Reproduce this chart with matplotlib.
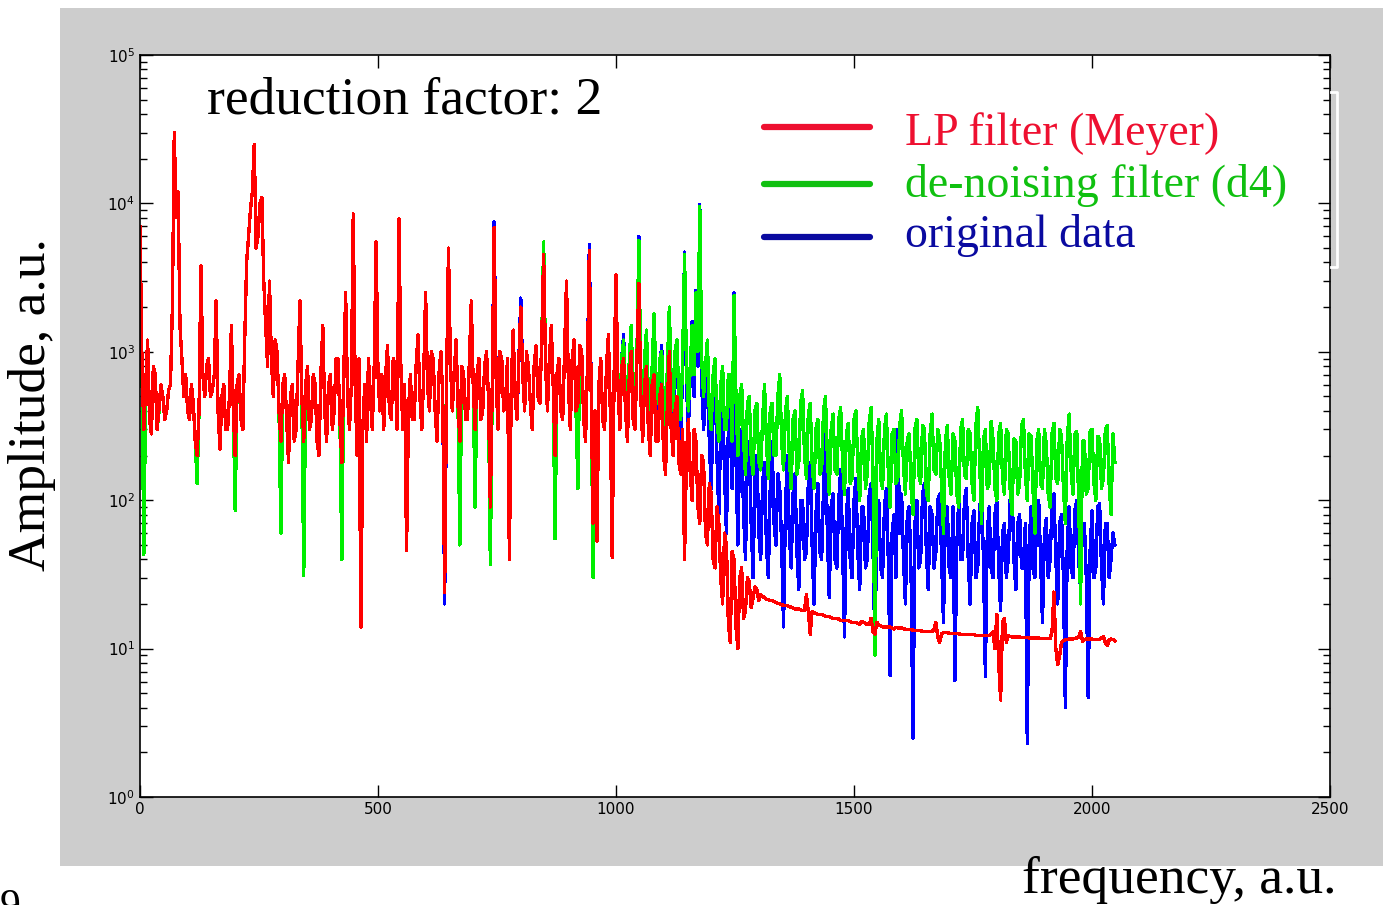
import numpy as np
import matplotlib
matplotlib.use("Agg")
import matplotlib.pyplot as plt
from matplotlib.patches import Rectangle
from matplotlib.lines import Line2D

# spectrum samples, one value every STEP frequency units (0 .. 2048),
# one row = 16 samples = 64 frequency units
STEP = 4

lp_meyer = [
    7000, 900, 300, 600, 1200, 350, 280, 800, 700, 300, 420, 600, 500, 350, 400, 550,
    600, 2000, 30000, 8000, 12000, 1500, 900, 500, 700, 400, 350, 600, 450, 250, 200, 400,
    3800, 700, 500, 800, 900, 500, 550, 700, 2200, 400, 220, 500, 600, 300, 300, 500,
    1500, 400, 200, 600, 700, 350, 300, 1200, 4000, 6000, 9000, 12000, 25000, 5000, 6000, 10000,
    11000, 3000, 1500, 800, 3000, 900, 500, 1200, 1000, 400, 250, 600, 700, 350, 180, 500,
    600, 250, 300, 800, 2200, 500, 250, 600, 800, 300, 350, 700, 600, 250, 200, 700,
    1500, 400, 250, 600, 700, 300, 400, 900, 900, 350, 180, 700, 2500, 500, 300, 600,
    8500, 600, 200, 900, 14, 300, 600, 250, 900, 500, 300, 800, 5500, 700, 400, 700,
    300, 700, 1100, 400, 350, 900, 800, 300, 7900, 800, 300, 600, 46, 400, 700, 350,
    350, 800, 1300, 500, 300, 700, 2500, 600, 400, 1000, 900, 400, 250, 700, 1000, 500,
    24, 600, 5000, 900, 400, 700, 1200, 450, 250, 800, 700, 350, 350, 900, 2200, 600,
    300, 700, 900, 350, 400, 800, 1000, 500, 90, 600, 6900, 700, 300, 1000, 900, 400,
    450, 900, 40, 600, 1400, 500, 350, 900, 2000, 700, 400, 1000, 800, 450, 300, 800,
    1100, 500, 450, 1200, 4500, 800, 400, 900, 1500, 600, 200, 700, 900, 400, 350, 1000,
    3000, 600, 300, 900, 1200, 400, 450, 1100, 1000, 350, 250, 800, 4800, 500, 70, 400,
    53, 600, 900, 350, 300, 800, 1300, 400, 41, 700, 3300, 600, 300, 800, 900, 400,
    250, 700, 1000, 350, 300, 900, 2900, 500, 250, 600, 800, 300, 200, 600, 700, 250,
    250, 500, 600, 200, 150, 450, 1000, 300, 200, 400, 500, 180, 150, 300, 40, 200,
    350, 150, 100, 300, 250, 90, 70, 200, 180, 60, 50, 130, 110, 40, 35, 90,
    70, 30, 20, 60, 50, 15, 11, 45, 40, 14, 10, 30, 35, 16, 18, 30,
    28, 19, 22, 26, 25, 21, 23, 22.5, 22, 21.5, 21.5, 21, 21, 20.8, 20.5, 20.2,
    20, 19.8, 19.5, 19.5, 19.5, 19.2, 19, 18.8, 18.5, 18.5, 18.5, 18.2, 18, 18, 23, 17.8,
    12.5, 17.8, 17.5, 17.3, 17, 17, 17, 16.8, 16.5, 16.5, 16.5, 16.2, 16, 16, 16, 15.8,
    15.5, 15.5, 15.5, 15.5, 15.5, 15.2, 15, 15, 15, 14.8, 14.5, 15.2, 15, 14.8, 14.5, 14.6,
    16, 13, 12.5, 15, 14.5, 14.2, 14, 14, 14, 14, 14, 13.8, 13.5, 13.9, 13.8, 13.8,
    13.8, 13.6, 13.5, 13.5, 13.5, 13.4, 13.3, 13.3, 13.3, 13.2, 13.2, 13.1, 13, 13, 13, 13,
    13, 13.5, 15, 12, 11, 12.6, 12.8, 12.8, 12.8, 12.7, 12.7, 12.6, 12.6, 12.6, 12.6, 12.5,
    12.5, 12.5, 12.5, 12.4, 12.4, 12.4, 12.4, 12.3, 12.3, 12.3, 12.3, 12.2, 12.2, 12.2, 12.2, 12.5,
    13, 10, 17, 8, 4.5, 15, 16, 11, 12.2, 12.1, 12, 12, 12, 12, 12, 11.9,
    11.9, 11.9, 11.9, 11.8, 11.8, 11.8, 11.8, 11.8, 11.8, 11.7, 11.7, 11.7, 11.7, 11.7, 11.7, 13,
    24, 10, 7.8, 9, 11, 11.3, 11.5, 11.5, 11.6, 11.6, 11.6, 11.7, 11.8, 12, 13, 11.2,
    11.5, 11.6, 11.6, 11.6, 11.6, 11.5, 11.5, 11.5, 11.5, 11.8, 12, 11, 10.5, 11.4, 11.6, 11.5,
    11.3,
]

denoise_d4 = [
    6500, 900, 43, 600, 1200, 350, 280, 800, 700, 300, 400, 600, 500, 350, 400, 550,
    600, 2000, 29000, 8000, 12000, 1500, 900, 500, 700, 400, 350, 600, 450, 250, 130, 400,
    3800, 700, 500, 800, 900, 500, 550, 700, 2200, 400, 220, 500, 600, 300, 300, 500,
    1500, 400, 85, 600, 700, 350, 300, 1200, 4000, 6000, 9000, 12000, 25000, 5000, 6000, 10000,
    11000, 3000, 1500, 800, 3000, 900, 500, 1200, 1000, 400, 60, 600, 700, 350, 180, 500,
    600, 250, 300, 800, 2200, 500, 31, 600, 800, 300, 350, 700, 600, 250, 200, 700,
    1500, 400, 250, 600, 700, 300, 400, 900, 900, 350, 40, 700, 2500, 500, 300, 600,
    8500, 600, 200, 900, 30, 300, 600, 250, 900, 500, 300, 800, 5500, 700, 400, 700,
    300, 700, 1100, 400, 350, 900, 800, 300, 7900, 800, 300, 600, 46, 400, 700, 350,
    350, 800, 1300, 500, 300, 700, 2500, 600, 400, 1000, 900, 400, 250, 700, 1000, 500,
    30, 600, 5000, 900, 400, 700, 1200, 450, 50, 800, 700, 350, 350, 900, 2200, 600,
    90, 700, 900, 350, 400, 800, 1000, 500, 37, 600, 6900, 700, 300, 1000, 900, 400,
    450, 900, 40, 600, 1400, 500, 350, 900, 2000, 700, 400, 1000, 800, 450, 300, 800,
    1100, 500, 450, 1200, 5500, 800, 400, 900, 1500, 600, 55, 700, 900, 400, 350, 1000,
    3000, 600, 300, 900, 1200, 400, 120, 1100, 1000, 350, 250, 800, 4800, 500, 30, 400,
    53, 600, 900, 350, 300, 800, 1300, 400, 41, 700, 3300, 600, 400, 900, 1200, 500,
    350, 900, 1500, 500, 450, 1000, 5600, 700, 400, 900, 1400, 500, 300, 800, 1800, 600,
    450, 900, 1000, 400, 300, 800, 2000, 600, 400, 1000, 1200, 500, 350, 900, 4500, 800,
    400, 800, 1500, 700, 2500, 1000, 9500, 900, 500, 800, 1200, 400, 300, 700, 900, 350,
    250, 600, 800, 300, 300, 700, 700, 250, 2400, 500, 200, 500, 600, 250, 150, 450,
    500, 200, 150, 400, 450, 180, 160, 350, 600, 250, 140, 400, 450, 200, 200, 500,
    700, 250, 160, 400, 500, 200, 120, 350, 400, 150, 180, 450, 550, 200, 140, 380,
    450, 180, 120, 300, 350, 150, 160, 400, 500, 200, 110, 300, 380, 160, 150, 350,
    420, 180, 110, 280, 330, 130, 140, 350, 400, 170, 100, 260, 300, 120, 150, 340,
    420, 150, 9, 250, 350, 140, 120, 300, 380, 160, 90, 280, 300, 130, 140, 320,
    400, 170, 110, 260, 280, 120, 80, 300, 350, 150, 130, 320, 300, 110, 100, 280,
    380, 160, 150, 300, 260, 120, 60, 250, 320, 140, 110, 280, 250, 110, 90, 300,
    350, 150, 140, 300, 280, 130, 100, 320, 420, 180, 70, 260, 300, 120, 130, 340,
    260, 120, 100, 280, 330, 140, 110, 300, 280, 120, 80, 260, 250, 110, 130, 320,
    350, 150, 100, 280, 270, 120, 60, 250, 300, 130, 120, 300, 240, 110, 90, 280,
    330, 140, 130, 300, 270, 120, 70, 260, 380, 160, 110, 280, 290, 100, 20, 250,
    250, 110, 120, 290, 300, 130, 100, 270, 260, 120, 140, 300, 320, 130, 80, 280,
    180,
]

original = [
    7000, 900, 300, 600, 1200, 350, 280, 800, 700, 300, 420, 600, 500, 350, 400, 550,
    600, 2000, 30000, 8000, 12000, 1500, 900, 500, 700, 400, 350, 600, 450, 250, 200, 400,
    3800, 700, 500, 800, 900, 500, 550, 700, 2200, 400, 220, 500, 600, 300, 300, 500,
    1500, 400, 200, 600, 700, 350, 300, 1200, 4000, 6000, 9000, 12000, 25000, 5000, 6000, 10000,
    11000, 3000, 1500, 800, 3000, 900, 500, 1200, 1000, 400, 250, 600, 700, 350, 180, 500,
    600, 250, 300, 800, 2200, 500, 250, 600, 800, 300, 350, 700, 600, 250, 200, 700,
    1500, 400, 250, 600, 700, 300, 400, 900, 900, 350, 180, 700, 2500, 500, 300, 600,
    8500, 600, 200, 900, 14, 300, 600, 250, 900, 500, 300, 800, 5500, 700, 400, 700,
    300, 700, 1100, 400, 350, 900, 800, 300, 7900, 800, 300, 600, 46, 400, 700, 350,
    350, 800, 1300, 500, 300, 700, 2500, 600, 400, 1000, 900, 400, 250, 700, 1000, 500,
    20, 600, 5000, 900, 400, 700, 1200, 450, 250, 800, 700, 350, 350, 900, 2200, 600,
    300, 700, 900, 350, 400, 800, 1000, 500, 90, 600, 7500, 700, 300, 1000, 900, 400,
    450, 900, 40, 600, 1400, 500, 350, 900, 2300, 700, 400, 1000, 800, 450, 300, 800,
    1100, 500, 450, 1200, 4500, 800, 400, 900, 1500, 600, 200, 700, 900, 400, 350, 1000,
    3000, 600, 300, 900, 1200, 400, 450, 1100, 1000, 350, 250, 800, 5300, 500, 70, 400,
    53, 600, 900, 350, 300, 800, 1300, 400, 41, 700, 3300, 600, 350, 900, 1300, 450,
    300, 800, 1400, 450, 400, 900, 6000, 600, 350, 900, 1300, 450, 300, 700, 1700, 500,
    350, 800, 1100, 350, 250, 700, 1900, 500, 300, 900, 1100, 400, 250, 800, 4700, 600,
    300, 700, 1600, 500, 2600, 800, 9800, 600, 300, 500, 900, 250, 120, 400, 700, 200,
    80, 300, 500, 150, 60, 300, 450, 120, 2500, 200, 50, 250, 300, 80, 40, 200,
    250, 70, 30, 150, 200, 60, 40, 130, 180, 50, 30, 120, 250, 70, 50, 150,
    120, 50, 14, 90, 200, 60, 35, 110, 150, 45, 25, 100, 100, 40, 45, 130,
    180, 50, 20, 80, 130, 45, 40, 120, 300, 60, 22, 90, 110, 40, 35, 100,
    160, 50, 12, 80, 120, 40, 30, 100, 140, 45, 25, 90, 90, 35, 40, 110,
    130, 45, 10, 70, 100, 35, 30, 90, 120, 40, 6.6, 60, 80, 30, 300, 60,
    110, 40, 20, 80, 90, 30, 2.5, 70, 100, 35, 40, 110, 130, 45, 25, 90,
    80, 35, 45, 100, 110, 40, 15, 80, 90, 35, 30, 90, 6.1, 50, 100, 40,
    40, 100, 120, 40, 20, 70, 85, 30, 35, 90, 110, 40, 6.5, 60, 90, 35,
    30, 80, 100, 35, 18, 60, 70, 30, 40, 100, 120, 40, 25, 70, 80, 35,
    35, 70, 2.3, 50, 90, 35, 30, 80, 100, 40, 15, 60, 75, 30, 40, 90,
    110, 40, 20, 70, 80, 30, 4, 50, 90, 35, 30, 85, 100, 40, 25, 70,
    70, 30, 4.7, 45, 85, 30, 35, 90, 95, 35, 20, 70, 70, 30, 40, 60,
    50,
]

series_labels = ["LP filter (Meyer)", "de-noising filter (d4)", "original data"]
x_ticks = [0, 500, 1000, 1500, 2000, 2500]

W, H = 1383, 905


def fx(px):
    return px / W


def fy(py):
    return 1 - py / H


def main():
    fig = plt.figure(figsize=(W / 100, H / 100), dpi=100)
    fig.patch.set_facecolor("white")

    # grey matlab figure background, kept behind the axes
    fig.patches.append(Rectangle((fx(60), fy(866)), fx(W - 60), (866 - 8) / H,
                                 transform=fig.transFigure, facecolor="#cdcdcd",
                                 edgecolor="none", zorder=-10))

    ax = fig.add_axes([fx(140), fy(797), fx(1190), 742 / H])
    ax.set_zorder(1)
    ax.set_facecolor("white")

    # original first, then the two filtered spectra on top
    for vals, col in [(original, "#0000ff"), (denoise_d4, "#00ee00"), (lp_meyer, "#ff0000")]:
        f = np.arange(len(vals)) * STEP
        ax.plot(f, vals, color=col, lw=1.7, antialiased=False)

    ax.set_yscale("log")
    ax.set_xlim(0, 2500)
    ax.set_ylim(1, 1e5)
    ax.set_xticks(x_ticks)
    ax.tick_params(which="both", direction="in", top=True, right=True,
                   labelsize=11, colors="black")
    ax.tick_params(which="major", length=9, width=1)
    ax.tick_params(which="minor", length=5, width=1)
    for s in ax.spines.values():
        s.set_linewidth(1.2)

    serif = "Liberation Serif"
    fig.text(fx(207), fy(113), "reduction factor: 2", fontsize=38.5,
             family=serif, va="baseline", zorder=5)

    # legend drawn by hand, like the slide
    leg_cols = ["#ee1030", "#10c010", "#0a0aa0"]
    leg_y = [127, 184, 237]
    text_y = [145, 197, 247]
    for lab, col, ly, ty in zip(series_labels, leg_cols, leg_y, text_y):
        fig.add_artist(Line2D([fx(764), fx(870)], [fy(ly), fy(ly)], color=col,
                              lw=4.5, solid_capstyle="round", zorder=5))
        fig.text(fx(905), fy(ty), lab, color=col, fontsize=33, family=serif,
                 va="baseline", zorder=5)

    # white bracket left over from the legend box
    fig.add_artist(Line2D([fx(1331), fx(1337), fx(1337), fx(1331)],
                          [fy(92), fy(92), fy(267), fy(267)], color="white",
                          lw=2, zorder=5))

    fig.text(fx(32), fy(405), "Amplitude, a.u.", rotation=90, fontsize=38.5,
             family=serif, ha="center", va="center")
    fig.text(fx(1022), fy(893), "frequency, a.u.", fontsize=38.5, family=serif,
             va="baseline")
    fig.text(fx(0), fy(918), "9", fontsize=30, family=serif, va="baseline")

    fig.savefig("out.png", dpi=100)


if __name__ == "__main__":
    main()
